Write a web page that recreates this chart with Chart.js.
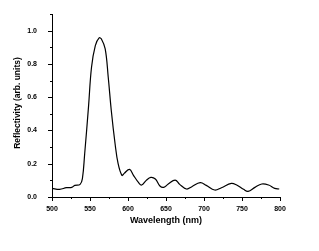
<!DOCTYPE html>
<html>
<head>
<meta charset="utf-8">
<script src="https://cdn.jsdelivr.net/npm/chart.js@4"></script>
<style>
  html, body { margin: 0; padding: 0; background: #fff; }
  #wrap { width: 319px; height: 251px; }
</style>
</head>
<body>
<div id="wrap"><canvas id="c" width="319" height="251"></canvas></div>
<script>
// wavelength (nm) and reflectivity
const wavelength = [500, 510, 519, 526, 530, 537, 540, 543, 548, 552, 557, 562, 565, 570, 574, 578, 583, 587, 592, 595, 602, 607, 614, 618, 624, 630, 636, 642, 647, 653, 662, 668, 677, 684, 695, 703, 714, 723, 736, 743, 752, 758, 767, 776, 785, 793, 799];
const reflectivity = [0.052, 0.046, 0.056, 0.058, 0.07, 0.076, 0.11, 0.26, 0.54, 0.78, 0.91, 0.956, 0.95, 0.89, 0.72, 0.52, 0.32, 0.2, 0.13, 0.142, 0.166, 0.132, 0.086, 0.072, 0.1, 0.118, 0.108, 0.066, 0.058, 0.078, 0.102, 0.076, 0.048, 0.062, 0.086, 0.07, 0.042, 0.056, 0.082, 0.072, 0.046, 0.034, 0.058, 0.078, 0.072, 0.052, 0.048];
const xTicks = [500, 550, 600, 650, 700, 750, 800];
const yTicks = [0.0, 0.2, 0.4, 0.6, 0.8, 1.0];

const tickFont = { family: 'Liberation Sans, Arial', size: 7, weight: 'bold' };

// draws the outward tick marks and the two axis titles
const axisDecor = {
  id: 'axisDecor',
  afterDraw(chart) {
    const { ctx, chartArea: a, scales: { x, y } } = chart;
    ctx.save();
    ctx.strokeStyle = '#000';
    ctx.lineWidth = 1;
    ctx.beginPath();
    for (let v = 500; v <= 800; v += 25) {
      const px = Math.round(x.getPixelForValue(v)) + 0.5;
      const len = v % 50 === 0 ? 4 : 2;
      ctx.moveTo(px, a.bottom);
      ctx.lineTo(px, a.bottom + len);
    }
    for (let i = 0; i <= 11; i++) {
      const v = i / 10;
      const py = Math.round(y.getPixelForValue(v)) + 0.5;
      const len = i % 2 === 0 ? 4 : 2;
      ctx.moveTo(a.left, py);
      ctx.lineTo(a.left - len, py);
    }
    ctx.stroke();

    ctx.fillStyle = '#000';
    ctx.font = 'bold 9px Liberation Sans, Arial';
    ctx.textAlign = 'center';
    ctx.textBaseline = 'middle';
    ctx.fillText('Wavelength (nm)', (a.left + a.right) / 2, 221);
    ctx.translate(18, 103);
    ctx.rotate(-Math.PI / 2);
    ctx.font = 'bold 8.5px Liberation Sans, Arial';
    ctx.fillText('Reflectivity (arb. units)', 0, 0);
    ctx.restore();
  }
};

new Chart(document.getElementById('c'), {
  type: 'line',
  data: {
    datasets: [{
      data: wavelength.map((w, i) => ({ x: w, y: reflectivity[i] })),
      borderColor: '#000',
      borderWidth: 1.2,
      pointRadius: 0,
      tension: 0.4,
      fill: false
    }]
  },
  options: {
    responsive: false,
    animation: false,
    layout: { padding: { left: 0, top: 14, right: 39, bottom: 0 } },
    plugins: { legend: { display: false }, tooltip: { enabled: false } },
    scales: {
      x: {
        type: 'linear',
        min: 500,
        max: 800,
        afterFit: s => { s.height = 54; },
        afterBuildTicks: s => { s.ticks = xTicks.map(v => ({ value: v })); },
        grid: { display: false },
        border: { display: true, color: '#000', width: 1 },
        ticks: { color: '#000', font: tickFont, padding: 0, maxRotation: 0 }
      },
      y: {
        min: 0,
        max: 1.1,
        afterFit: s => { s.width = 52; },
        afterBuildTicks: s => { s.ticks = yTicks.map(v => ({ value: v })); },
        grid: { display: false },
        border: { display: true, color: '#000', width: 1 },
        ticks: { color: '#000', font: tickFont, padding: 7, callback: v => v.toFixed(1) }
      }
    }
  },
  plugins: [axisDecor]
});
</script>
</body>
</html>
